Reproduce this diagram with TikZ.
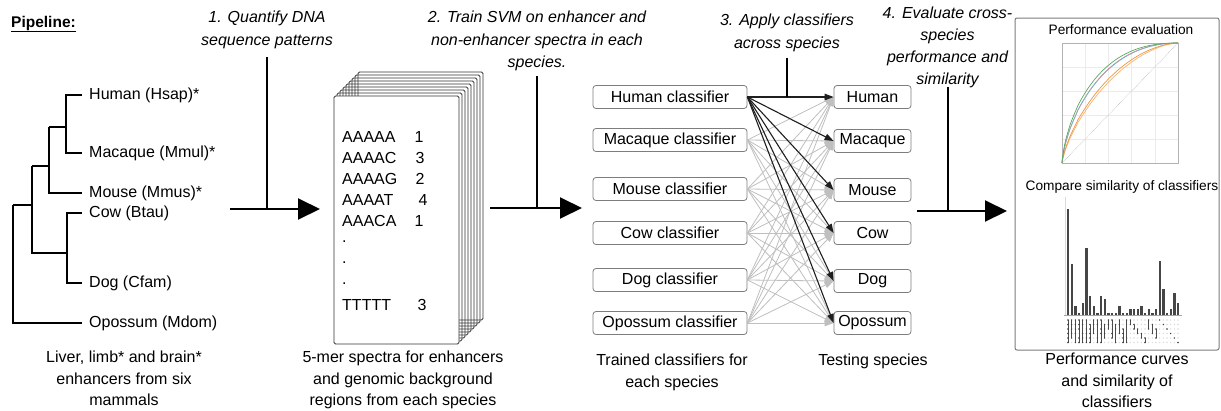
\documentclass[tikz,border=0pt]{standalone}
\usepackage{fontspec}
\setmainfont{Liberation Sans}
\usetikzlibrary{arrows.meta}
\definecolor{boxgray}{RGB}{125,125,125}
\definecolor{rocgreen}{RGB}{90,170,90}
\definecolor{rocblue}{RGB}{120,180,215}
\definecolor{rocred}{RGB}{225,120,125}
\definecolor{rocorange}{RGB}{240,150,60}
\definecolor{rocorangeb}{RGB}{245,180,110}
\definecolor{bargray}{RGB}{70,70,70}
\begin{document}
\begin{tikzpicture}[x=1pt,y=-1pt,
  txt/.style={inner sep=0pt, font=\fontsize{16}{21.5}\selectfont},
  leaf/.style={txt, anchor=west},
  steptxt/.style={inner sep=0pt, font=\fontsize{16}{22.5}\selectfont\itshape, align=center, anchor=north},
  captxt/.style={inner sep=0pt, font=\fontsize{16}{21.5}\selectfont, align=center, anchor=north},
  treeline/.style={line width=1.5pt},
  stepline/.style={line width=1.2pt},
  bigarr/.style={line width=2pt, -{Triangle[length=22pt,width=21pt]}},
  pagebox/.style={draw=black!80, line width=0.8pt, rounded corners=1.5pt},
  clsbox/.style={draw=boxgray, line width=0.8pt, rounded corners=3pt, minimum width=154pt, minimum height=23pt, inner sep=0pt, font=\fontsize{16}{19}\selectfont},
  spbox/.style={draw=boxgray, line width=0.8pt, rounded corners=3pt, minimum width=77pt, minimum height=23pt, inner sep=0pt, font=\fontsize{16}{19}\selectfont},
  grayarr/.style={draw=black!25, line width=0.8pt, -{Triangle[length=9pt,width=6.5pt]}},
  darkarr/.style={draw=black!88, line width=1.1pt, -{Triangle[length=9pt,width=6.5pt]}},
  smalltxt/.style={inner sep=0pt, font=\fontsize{13.7}{16}\selectfont},
  roc/.style={line width=0.7pt}
]
\useasboundingbox (0,0) rectangle (1221,410);
\fill[white] (0,0) rectangle (1221,410);

% title
\node[txt, anchor=west, font=\fontsize{15.5}{18}\selectfont\bfseries] (title) at (11,24) {\underline{Pipeline:}};

% ---------- tree ----------
\node[leaf] (hs) at (89,95) {Human (Hsap)*};
\node[leaf] (mm) at (89,153) {Macaque (Mmul)*};
\node[leaf] (mu) at (89,193) {Mouse (Mmus)*};
\node[leaf] (bt) at (89,213) {Cow (Btau)};
\node[leaf] (cf) at (89,283) {Dog (Cfam)};
\node[leaf] (md) at (89,323) {Opossum (Mdom)};
\coordinate (jhm) at (66,127);
\coordinate (jhmm) at (49,166);
\coordinate (jcd) at (67,253);
\coordinate (jroot) at (32,205);
\coordinate (root) at (13,264);
\draw[treeline] ([xshift=-7pt]hs.west) -| (jhm) |- ([xshift=-7pt]mm.west);
\draw[treeline] (jhm) -- (jhm -| jhmm);
\draw[treeline] (jhmm |- jhm) |- ([xshift=-7pt]mu.west);
\draw[treeline] (jhmm) -- (jhmm -| jroot);
\draw[treeline] ([xshift=-7pt]bt.west) -| (jcd) |- ([xshift=-7pt]cf.west);
\draw[treeline] (jroot |- jhmm) |- (jcd);
\draw[treeline] (jroot) -- (jroot -| root);
\draw[treeline] (root |- jroot) |- ([xshift=-7pt]md.west);

\node[captxt] (cap1) at (124,351) {Liver, limb* and brain*\\enhancers from six\\mammals};

% ---------- step 1 ----------
\node[steptxt] (s1) at (267,11) {1. Quantify DNA\\sequence patterns};
\coordinate (a1s) at (230,209);
\coordinate (a1e) at (320,209);
\coordinate (v1) at (267,57);
\draw[bigarr] (a1s) -- (a1e);
\draw[stepline] (v1) -- (v1 |- a1s);

% ---------- page stack ----------
\foreach \k in {8,7,...,1}
  \draw[pagebox] ({334+3*\k},{96-3*\k}) rectangle ({459+3*\k},{344-3*\k});
\draw[pagebox, fill=white] (334,96) rectangle (459,344);
\foreach \s/\n/\nx/\yy in {AAAAA/1/419/137, AAAAC/3/420/158, AAAAG/2/420/179, AAAAT/4/423/200, AAACA/1/419/221}{
  \node[leaf] at (342,\yy) {\s};
  \node[txt] at (\nx,\yy) {\n};
}
\foreach \yy in {242,263,284} \node[leaf] at (342,\yy) {.};
\node[leaf] at (342,305) {TTTTT};
\node[txt] at (422,305) {3};

\node[captxt] (cap2) at (403,351) {5-mer spectra for enhancers\\and genomic background\\regions from each species};

% ---------- step 2 ----------
\node[steptxt] (s2) at (537,11) {2. Train SVM on enhancer and\\non-enhancer spectra in each\\species.};
\coordinate (a2s) at (490,208);
\coordinate (a2e) at (582,208);
\coordinate (v2) at (537,76);
\draw[bigarr] (a2s) -- (a2e);
\draw[stepline] (v2) -- (v2 |- a2s);

% ---------- classifiers ----------
\node[clsbox] (hc) at (670,97) {Human classifier};
\node[clsbox] (mc) at (670,140) {Macaque classifier};
\node[clsbox] (oc) at (670,189) {Mouse classifier};
\node[clsbox] (cc) at (670,233) {Cow classifier};
\node[clsbox] (dc) at (670,280) {Dog classifier};
\node[clsbox] (pc) at (670,323) {Opossum classifier};
\node[spbox] (ht) at (872.5,97) {Human};
\node[spbox] (mt) at (872.5,141) {Macaque};
\node[spbox] (ot) at (872.5,190) {Mouse};
\node[spbox] (ct) at (872.5,233) {Cow};
\node[spbox] (dt) at (872.5,281) {Dog};
\node[spbox] (pt) at (872.5,323) {Opossum};
\foreach \s in {mc,oc,cc,dc,pc}
  \foreach \t in {ht,mt,ot,ct,dt,pt}
    \draw[grayarr] (\s.east) -- (\t.west);
\foreach \t in {ht,mt,ot,ct,dt,pt}
  \draw[darkarr] (hc.east) -- (\t.west);

\node[steptxt] (s3) at (787,14) {3. Apply classifiers\\across species};
\coordinate (v3) at (787,58);
\draw[stepline] (v3) -- (v3 |- hc.east);

\node[captxt] (cap3) at (672,354) {Trained classifiers for\\each species};
\node[captxt] (cap4) at (873,354) {Testing species};

% ---------- step 4 ----------
\node[steptxt, font=\fontsize{16}{22}\selectfont\itshape] (s4) at (947.5,7) {4. Evaluate cross-\\species\\performance and\\similarity};
\coordinate (a3s) at (917,211);
\coordinate (a3e) at (1007,211);
\coordinate (v4) at (948,87);
\draw[bigarr] (a3s) -- (a3e);
\draw[stepline] (v4) -- (v4 |- a3s);

% ---------- result panel ----------
\node[draw=boxgray, line width=1pt, rounded corners=2pt, minimum width=204pt, minimum height=332pt, inner sep=0pt] (pan) at (1117,184) {};
\node[smalltxt] (pe) at (1121,30) {Performance evaluation};
\begin{scope}[shift={(1062,163)}, x=116pt, y=120pt]
  \draw[black!8, line width=0.4pt] (0,0) grid[step=0.2] (1,1);
  \draw[black!30, line width=0.6pt] (0,0) rectangle (1,1);
  \draw[black!35, densely dotted, line width=0.5pt] (0,0) -- (1,1);
  \draw[roc, rocorangeb] (0,0) -- plot[domain=0.002:0.998, samples=60] (\x,{1-(1-(\x)^0.76)^1.62}) -- (1,1);
  \draw[roc, rocorange] (0,0) -- plot[domain=0.002:0.998, samples=60] (\x,{1-(1-(\x)^0.75)^1.72}) -- (1,1);
  \draw[roc, rocred] (0,0) -- plot[domain=0.002:0.998, samples=60] (\x,{1-(1-(\x)^0.72)^2.1}) -- (1,1);
  \draw[roc, rocblue] (0,0) -- plot[domain=0.002:0.998, samples=60] (\x,{1-(1-(\x)^0.71)^2.05}) -- (1,1);
  \draw[roc, rocgreen] (0,0) -- plot[domain=0.002:0.998, samples=60] (\x,{1-(1-(\x)^0.7)^2.25}) -- (1,1);
\end{scope}

\node[smalltxt] (cs) at (1122,187) {Compare similarity of classifiers};
\draw[black!15, line width=0.6pt] (1065,197) -- (1065,315);
\foreach \i/\t in {1/209,2/264,3/306,4/313,5/303,6/248,7/296,8/306,9/313,10/296,11/299,12/313,13/313,14/313,15/306,16/313,17/313,18/309,19/309,20/309,21/306,22/313,23/309,24/313,25/309,26/261,27/289,28/313,29/309,30/293,31/303}
  \fill[bargray] ({1066.9+(\i-1)*3.667},\t) rectangle ++(2.3,{315-\t});
\draw[black!35, line width=0.5pt] (1064,315.3) -- (1182,315.3);
\foreach \i in {1,...,31}
  \foreach \r in {0,...,5}
    \fill[black!14] ({1068+(\i-1)*3.667},{320+\r*4.5}) circle (0.8pt);
\foreach \i/\a/\b/\rows in {1/0/5/{0,1,2,3,4,5},2/0/4/{0,1,2,3,4},3/0/5/{0,1,2,3,5},4/0/5/{0,1,2,4,5},5/0/5/{0,1,3,4,5},6/0/5/{0,2,3,4,5},7/1/5/{1,2,3,4,5},8/0/3/{0,1,2,3},9/0/5/{0,1,4,5},10/0/5/{0,2,3,5},11/1/4/{1,2,3,4},12/0/2/{0,1,2},13/0/4/{0,3,4},14/1/5/{1,2,5},15/0/3/{0,1,3},16/2/5/{2,3,4,5},17/0/5/{0,4,5},18/0/1/{0,1},19/1/2/{1,2},20/2/3/{2,3},21/3/4/{3,4},22/4/5/{4,5},23/0/2/{0,2},24/1/3/{1,3},25/2/4/{2,4},26/0/0/{0},27/1/1/{1},28/2/2/{2},29/3/3/{3},30/4/4/{4},31/5/5/{5}}{
  \draw[black!70, line width=0.5pt] ({1068+(\i-1)*3.667},{320+\a*4.5}) -- ({1068+(\i-1)*3.667},{320+\b*4.5});
  \foreach \r in \rows
    \fill[black!75] ({1068+(\i-1)*3.667},{320+\r*4.5}) circle (0.8pt);
}

\node[captxt] (cap5) at (1117,353) {Performance curves\\and similarity of\\classifiers};
\end{tikzpicture}
\end{document}
